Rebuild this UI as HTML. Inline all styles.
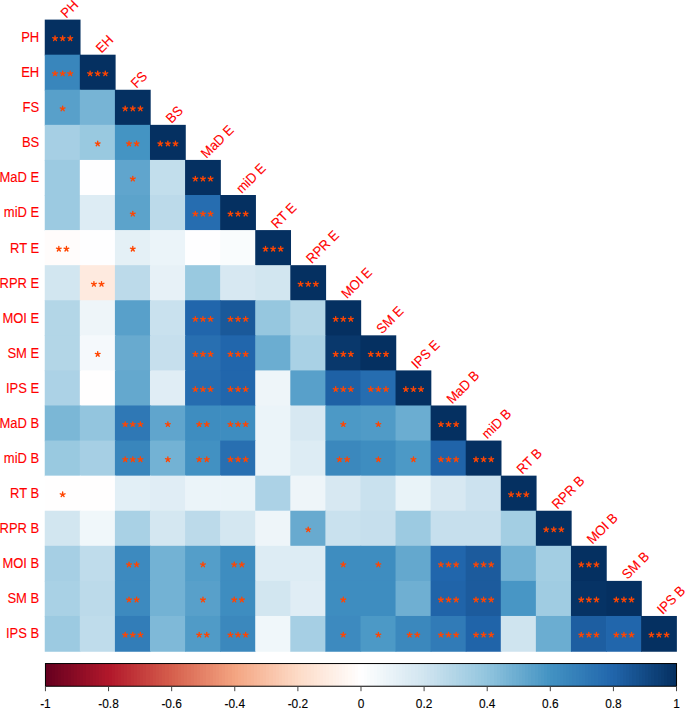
<!DOCTYPE html>
<html><head><meta charset="utf-8"><style>
html,body{margin:0;padding:0;background:#fff;}
body{width:685px;height:709px;position:relative;overflow:hidden;font-family:"Liberation Sans", sans-serif;}
</style></head><body>
<svg width="685" height="709" viewBox="0 0 685 709" style="position:absolute;left:0;top:0"><defs><linearGradient id="cb" x1="0" x2="1" y1="0" y2="0"><stop offset="0.00000" stop-color="#67001f"/><stop offset="0.00500" stop-color="#67001f"/><stop offset="0.00500" stop-color="#6b0120"/><stop offset="0.01000" stop-color="#6b0120"/><stop offset="0.01000" stop-color="#6f0220"/><stop offset="0.01500" stop-color="#6f0220"/><stop offset="0.01500" stop-color="#720421"/><stop offset="0.02000" stop-color="#720421"/><stop offset="0.02000" stop-color="#760521"/><stop offset="0.02500" stop-color="#760521"/><stop offset="0.02500" stop-color="#7a0622"/><stop offset="0.03000" stop-color="#7a0622"/><stop offset="0.03000" stop-color="#7e0723"/><stop offset="0.03500" stop-color="#7e0723"/><stop offset="0.03500" stop-color="#810823"/><stop offset="0.04000" stop-color="#810823"/><stop offset="0.04000" stop-color="#850a24"/><stop offset="0.04500" stop-color="#850a24"/><stop offset="0.04500" stop-color="#890b24"/><stop offset="0.05000" stop-color="#890b24"/><stop offset="0.05000" stop-color="#8d0c25"/><stop offset="0.05500" stop-color="#8d0c25"/><stop offset="0.05500" stop-color="#900d26"/><stop offset="0.06000" stop-color="#900d26"/><stop offset="0.06000" stop-color="#940e26"/><stop offset="0.06500" stop-color="#940e26"/><stop offset="0.06500" stop-color="#981027"/><stop offset="0.07000" stop-color="#981027"/><stop offset="0.07000" stop-color="#9c1127"/><stop offset="0.07500" stop-color="#9c1127"/><stop offset="0.07500" stop-color="#a01228"/><stop offset="0.08000" stop-color="#a01228"/><stop offset="0.08000" stop-color="#a31329"/><stop offset="0.08500" stop-color="#a31329"/><stop offset="0.08500" stop-color="#a71529"/><stop offset="0.09000" stop-color="#a71529"/><stop offset="0.09000" stop-color="#ab162a"/><stop offset="0.09500" stop-color="#ab162a"/><stop offset="0.09500" stop-color="#af172a"/><stop offset="0.10000" stop-color="#af172a"/><stop offset="0.10000" stop-color="#b2182b"/><stop offset="0.10500" stop-color="#b2182b"/><stop offset="0.10500" stop-color="#b41c2d"/><stop offset="0.11000" stop-color="#b41c2d"/><stop offset="0.11000" stop-color="#b6202f"/><stop offset="0.11500" stop-color="#b6202f"/><stop offset="0.11500" stop-color="#b82330"/><stop offset="0.12000" stop-color="#b82330"/><stop offset="0.12000" stop-color="#b92732"/><stop offset="0.12500" stop-color="#b92732"/><stop offset="0.12500" stop-color="#bb2a34"/><stop offset="0.13000" stop-color="#bb2a34"/><stop offset="0.13000" stop-color="#bd2e35"/><stop offset="0.13500" stop-color="#bd2e35"/><stop offset="0.13500" stop-color="#bf3237"/><stop offset="0.14000" stop-color="#bf3237"/><stop offset="0.14000" stop-color="#c13539"/><stop offset="0.14500" stop-color="#c13539"/><stop offset="0.14500" stop-color="#c2393b"/><stop offset="0.15000" stop-color="#c2393b"/><stop offset="0.15000" stop-color="#c43d3c"/><stop offset="0.15500" stop-color="#c43d3c"/><stop offset="0.15500" stop-color="#c6403e"/><stop offset="0.16000" stop-color="#c6403e"/><stop offset="0.16000" stop-color="#c84440"/><stop offset="0.16500" stop-color="#c84440"/><stop offset="0.16500" stop-color="#ca4741"/><stop offset="0.17000" stop-color="#ca4741"/><stop offset="0.17000" stop-color="#cc4b43"/><stop offset="0.17500" stop-color="#cc4b43"/><stop offset="0.17500" stop-color="#cd4f45"/><stop offset="0.18000" stop-color="#cd4f45"/><stop offset="0.18000" stop-color="#cf5247"/><stop offset="0.18500" stop-color="#cf5247"/><stop offset="0.18500" stop-color="#d15648"/><stop offset="0.19000" stop-color="#d15648"/><stop offset="0.19000" stop-color="#d3594a"/><stop offset="0.19500" stop-color="#d3594a"/><stop offset="0.19500" stop-color="#d55d4c"/><stop offset="0.20000" stop-color="#d55d4c"/><stop offset="0.20000" stop-color="#d6614e"/><stop offset="0.20500" stop-color="#d6614e"/><stop offset="0.20500" stop-color="#d86450"/><stop offset="0.21000" stop-color="#d86450"/><stop offset="0.21000" stop-color="#d96853"/><stop offset="0.21500" stop-color="#d96853"/><stop offset="0.21500" stop-color="#db6b56"/><stop offset="0.22000" stop-color="#db6b56"/><stop offset="0.22000" stop-color="#dc6f58"/><stop offset="0.22500" stop-color="#dc6f58"/><stop offset="0.22500" stop-color="#de725b"/><stop offset="0.23000" stop-color="#de725b"/><stop offset="0.23000" stop-color="#df755e"/><stop offset="0.23500" stop-color="#df755e"/><stop offset="0.23500" stop-color="#e17960"/><stop offset="0.24000" stop-color="#e17960"/><stop offset="0.24000" stop-color="#e27c63"/><stop offset="0.24500" stop-color="#e27c63"/><stop offset="0.24500" stop-color="#e48066"/><stop offset="0.25000" stop-color="#e48066"/><stop offset="0.25000" stop-color="#e58368"/><stop offset="0.25500" stop-color="#e58368"/><stop offset="0.25500" stop-color="#e7876b"/><stop offset="0.26000" stop-color="#e7876b"/><stop offset="0.26000" stop-color="#e88a6d"/><stop offset="0.26500" stop-color="#e88a6d"/><stop offset="0.26500" stop-color="#ea8e70"/><stop offset="0.27000" stop-color="#ea8e70"/><stop offset="0.27000" stop-color="#eb9173"/><stop offset="0.27500" stop-color="#eb9173"/><stop offset="0.27500" stop-color="#ed9575"/><stop offset="0.28000" stop-color="#ed9575"/><stop offset="0.28000" stop-color="#ee9878"/><stop offset="0.28500" stop-color="#ee9878"/><stop offset="0.28500" stop-color="#f09c7b"/><stop offset="0.29000" stop-color="#f09c7b"/><stop offset="0.29000" stop-color="#f19f7d"/><stop offset="0.29500" stop-color="#f19f7d"/><stop offset="0.29500" stop-color="#f3a380"/><stop offset="0.30000" stop-color="#f3a380"/><stop offset="0.30000" stop-color="#f4a683"/><stop offset="0.30500" stop-color="#f4a683"/><stop offset="0.30500" stop-color="#f5a987"/><stop offset="0.31000" stop-color="#f5a987"/><stop offset="0.31000" stop-color="#f5ab8a"/><stop offset="0.31500" stop-color="#f5ab8a"/><stop offset="0.31500" stop-color="#f5ae8d"/><stop offset="0.32000" stop-color="#f5ae8d"/><stop offset="0.32000" stop-color="#f6b191"/><stop offset="0.32500" stop-color="#f6b191"/><stop offset="0.32500" stop-color="#f6b394"/><stop offset="0.33000" stop-color="#f6b394"/><stop offset="0.33000" stop-color="#f7b698"/><stop offset="0.33500" stop-color="#f7b698"/><stop offset="0.33500" stop-color="#f7b99b"/><stop offset="0.34000" stop-color="#f7b99b"/><stop offset="0.34000" stop-color="#f8bc9f"/><stop offset="0.34500" stop-color="#f8bc9f"/><stop offset="0.34500" stop-color="#f8bea2"/><stop offset="0.35000" stop-color="#f8bea2"/><stop offset="0.35000" stop-color="#f9c1a6"/><stop offset="0.35500" stop-color="#f9c1a6"/><stop offset="0.35500" stop-color="#f9c4a9"/><stop offset="0.36000" stop-color="#f9c4a9"/><stop offset="0.36000" stop-color="#fac6ad"/><stop offset="0.36500" stop-color="#fac6ad"/><stop offset="0.36500" stop-color="#fac9b0"/><stop offset="0.37000" stop-color="#fac9b0"/><stop offset="0.37000" stop-color="#faccb4"/><stop offset="0.37500" stop-color="#faccb4"/><stop offset="0.37500" stop-color="#fbcfb7"/><stop offset="0.38000" stop-color="#fbcfb7"/><stop offset="0.38000" stop-color="#fbd1bb"/><stop offset="0.38500" stop-color="#fbd1bb"/><stop offset="0.38500" stop-color="#fcd4be"/><stop offset="0.39000" stop-color="#fcd4be"/><stop offset="0.39000" stop-color="#fcd7c1"/><stop offset="0.39500" stop-color="#fcd7c1"/><stop offset="0.39500" stop-color="#fdd9c5"/><stop offset="0.40000" stop-color="#fdd9c5"/><stop offset="0.40000" stop-color="#fddcc8"/><stop offset="0.40500" stop-color="#fddcc8"/><stop offset="0.40500" stop-color="#fddecb"/><stop offset="0.41000" stop-color="#fddecb"/><stop offset="0.41000" stop-color="#fddfce"/><stop offset="0.41500" stop-color="#fddfce"/><stop offset="0.41500" stop-color="#fde1d1"/><stop offset="0.42000" stop-color="#fde1d1"/><stop offset="0.42000" stop-color="#fde3d3"/><stop offset="0.42500" stop-color="#fde3d3"/><stop offset="0.42500" stop-color="#fee5d6"/><stop offset="0.43000" stop-color="#fee5d6"/><stop offset="0.43000" stop-color="#fee7d9"/><stop offset="0.43500" stop-color="#fee7d9"/><stop offset="0.43500" stop-color="#fee8dc"/><stop offset="0.44000" stop-color="#fee8dc"/><stop offset="0.44000" stop-color="#feeadf"/><stop offset="0.44500" stop-color="#feeadf"/><stop offset="0.44500" stop-color="#feece1"/><stop offset="0.45000" stop-color="#feece1"/><stop offset="0.45000" stop-color="#feeee4"/><stop offset="0.45500" stop-color="#feeee4"/><stop offset="0.45500" stop-color="#fef0e7"/><stop offset="0.46000" stop-color="#fef0e7"/><stop offset="0.46000" stop-color="#fef1ea"/><stop offset="0.46500" stop-color="#fef1ea"/><stop offset="0.46500" stop-color="#fef3ed"/><stop offset="0.47000" stop-color="#fef3ed"/><stop offset="0.47000" stop-color="#fef5f0"/><stop offset="0.47500" stop-color="#fef5f0"/><stop offset="0.47500" stop-color="#fff7f2"/><stop offset="0.48000" stop-color="#fff7f2"/><stop offset="0.48000" stop-color="#fff9f5"/><stop offset="0.48500" stop-color="#fff9f5"/><stop offset="0.48500" stop-color="#fffaf8"/><stop offset="0.49000" stop-color="#fffaf8"/><stop offset="0.49000" stop-color="#fffcfb"/><stop offset="0.49500" stop-color="#fffcfb"/><stop offset="0.49500" stop-color="#fffefe"/><stop offset="0.50000" stop-color="#fffefe"/><stop offset="0.50000" stop-color="#fefeff"/><stop offset="0.50500" stop-color="#fefeff"/><stop offset="0.50500" stop-color="#fcfdfe"/><stop offset="0.51000" stop-color="#fcfdfe"/><stop offset="0.51000" stop-color="#f9fcfd"/><stop offset="0.51500" stop-color="#f9fcfd"/><stop offset="0.51500" stop-color="#f7fafc"/><stop offset="0.52000" stop-color="#f7fafc"/><stop offset="0.52000" stop-color="#f5f9fc"/><stop offset="0.52500" stop-color="#f5f9fc"/><stop offset="0.52500" stop-color="#f2f8fb"/><stop offset="0.53000" stop-color="#f2f8fb"/><stop offset="0.53000" stop-color="#f0f7fa"/><stop offset="0.53500" stop-color="#f0f7fa"/><stop offset="0.53500" stop-color="#eef5f9"/><stop offset="0.54000" stop-color="#eef5f9"/><stop offset="0.54000" stop-color="#ebf4f9"/><stop offset="0.54500" stop-color="#ebf4f9"/><stop offset="0.54500" stop-color="#e9f3f8"/><stop offset="0.55000" stop-color="#e9f3f8"/><stop offset="0.55000" stop-color="#e7f1f7"/><stop offset="0.55500" stop-color="#e7f1f7"/><stop offset="0.55500" stop-color="#e4f0f6"/><stop offset="0.56000" stop-color="#e4f0f6"/><stop offset="0.56000" stop-color="#e2eff6"/><stop offset="0.56500" stop-color="#e2eff6"/><stop offset="0.56500" stop-color="#e0edf5"/><stop offset="0.57000" stop-color="#e0edf5"/><stop offset="0.57000" stop-color="#ddecf4"/><stop offset="0.57500" stop-color="#ddecf4"/><stop offset="0.57500" stop-color="#dbebf3"/><stop offset="0.58000" stop-color="#dbebf3"/><stop offset="0.58000" stop-color="#d9e9f3"/><stop offset="0.58500" stop-color="#d9e9f3"/><stop offset="0.58500" stop-color="#d7e8f2"/><stop offset="0.59000" stop-color="#d7e8f2"/><stop offset="0.59000" stop-color="#d4e7f1"/><stop offset="0.59500" stop-color="#d4e7f1"/><stop offset="0.59500" stop-color="#d2e6f0"/><stop offset="0.60000" stop-color="#d2e6f0"/><stop offset="0.60000" stop-color="#cfe4ef"/><stop offset="0.60500" stop-color="#cfe4ef"/><stop offset="0.60500" stop-color="#cce2ef"/><stop offset="0.61000" stop-color="#cce2ef"/><stop offset="0.61000" stop-color="#c9e1ee"/><stop offset="0.61500" stop-color="#c9e1ee"/><stop offset="0.61500" stop-color="#c6dfed"/><stop offset="0.62000" stop-color="#c6dfed"/><stop offset="0.62000" stop-color="#c2deec"/><stop offset="0.62500" stop-color="#c2deec"/><stop offset="0.62500" stop-color="#bfdceb"/><stop offset="0.63000" stop-color="#bfdceb"/><stop offset="0.63000" stop-color="#bcdaea"/><stop offset="0.63500" stop-color="#bcdaea"/><stop offset="0.63500" stop-color="#b9d9e9"/><stop offset="0.64000" stop-color="#b9d9e9"/><stop offset="0.64000" stop-color="#b6d7e8"/><stop offset="0.64500" stop-color="#b6d7e8"/><stop offset="0.64500" stop-color="#b3d6e7"/><stop offset="0.65000" stop-color="#b3d6e7"/><stop offset="0.65000" stop-color="#afd4e6"/><stop offset="0.65500" stop-color="#afd4e6"/><stop offset="0.65500" stop-color="#acd2e6"/><stop offset="0.66000" stop-color="#acd2e6"/><stop offset="0.66000" stop-color="#a9d1e5"/><stop offset="0.66500" stop-color="#a9d1e5"/><stop offset="0.66500" stop-color="#a6cfe4"/><stop offset="0.67000" stop-color="#a6cfe4"/><stop offset="0.67000" stop-color="#a3cee3"/><stop offset="0.67500" stop-color="#a3cee3"/><stop offset="0.67500" stop-color="#a0cce2"/><stop offset="0.68000" stop-color="#a0cce2"/><stop offset="0.68000" stop-color="#9ccae1"/><stop offset="0.68500" stop-color="#9ccae1"/><stop offset="0.68500" stop-color="#99c9e0"/><stop offset="0.69000" stop-color="#99c9e0"/><stop offset="0.69000" stop-color="#96c7df"/><stop offset="0.69500" stop-color="#96c7df"/><stop offset="0.69500" stop-color="#93c5de"/><stop offset="0.70000" stop-color="#93c5de"/><stop offset="0.70000" stop-color="#8fc3dd"/><stop offset="0.70500" stop-color="#8fc3dd"/><stop offset="0.70500" stop-color="#8bc1dc"/><stop offset="0.71000" stop-color="#8bc1dc"/><stop offset="0.71000" stop-color="#87beda"/><stop offset="0.71500" stop-color="#87beda"/><stop offset="0.71500" stop-color="#83bcd9"/><stop offset="0.72000" stop-color="#83bcd9"/><stop offset="0.72000" stop-color="#7fb9d8"/><stop offset="0.72500" stop-color="#7fb9d8"/><stop offset="0.72500" stop-color="#7bb7d6"/><stop offset="0.73000" stop-color="#7bb7d6"/><stop offset="0.73000" stop-color="#77b4d5"/><stop offset="0.73500" stop-color="#77b4d5"/><stop offset="0.73500" stop-color="#73b2d4"/><stop offset="0.74000" stop-color="#73b2d4"/><stop offset="0.74000" stop-color="#6fafd2"/><stop offset="0.74500" stop-color="#6fafd2"/><stop offset="0.74500" stop-color="#6badd1"/><stop offset="0.75000" stop-color="#6badd1"/><stop offset="0.75000" stop-color="#68aacf"/><stop offset="0.75500" stop-color="#68aacf"/><stop offset="0.75500" stop-color="#64a8ce"/><stop offset="0.76000" stop-color="#64a8ce"/><stop offset="0.76000" stop-color="#60a5cd"/><stop offset="0.76500" stop-color="#60a5cd"/><stop offset="0.76500" stop-color="#5ca3cb"/><stop offset="0.77000" stop-color="#5ca3cb"/><stop offset="0.77000" stop-color="#58a0ca"/><stop offset="0.77500" stop-color="#58a0ca"/><stop offset="0.77500" stop-color="#549ec9"/><stop offset="0.78000" stop-color="#549ec9"/><stop offset="0.78000" stop-color="#509bc7"/><stop offset="0.78500" stop-color="#509bc7"/><stop offset="0.78500" stop-color="#4c99c6"/><stop offset="0.79000" stop-color="#4c99c6"/><stop offset="0.79000" stop-color="#4896c5"/><stop offset="0.79500" stop-color="#4896c5"/><stop offset="0.79500" stop-color="#4494c3"/><stop offset="0.80000" stop-color="#4494c3"/><stop offset="0.80000" stop-color="#4291c2"/><stop offset="0.80500" stop-color="#4291c2"/><stop offset="0.80500" stop-color="#408fc1"/><stop offset="0.81000" stop-color="#408fc1"/><stop offset="0.81000" stop-color="#3e8dc0"/><stop offset="0.81500" stop-color="#3e8dc0"/><stop offset="0.81500" stop-color="#3d8abf"/><stop offset="0.82000" stop-color="#3d8abf"/><stop offset="0.82000" stop-color="#3b88bd"/><stop offset="0.82500" stop-color="#3b88bd"/><stop offset="0.82500" stop-color="#3986bc"/><stop offset="0.83000" stop-color="#3986bc"/><stop offset="0.83000" stop-color="#3784bb"/><stop offset="0.83500" stop-color="#3784bb"/><stop offset="0.83500" stop-color="#3681ba"/><stop offset="0.84000" stop-color="#3681ba"/><stop offset="0.84000" stop-color="#347fb9"/><stop offset="0.84500" stop-color="#347fb9"/><stop offset="0.84500" stop-color="#327db8"/><stop offset="0.85000" stop-color="#327db8"/><stop offset="0.85000" stop-color="#317bb7"/><stop offset="0.85500" stop-color="#317bb7"/><stop offset="0.85500" stop-color="#2f78b5"/><stop offset="0.86000" stop-color="#2f78b5"/><stop offset="0.86000" stop-color="#2d76b4"/><stop offset="0.86500" stop-color="#2d76b4"/><stop offset="0.86500" stop-color="#2b74b3"/><stop offset="0.87000" stop-color="#2b74b3"/><stop offset="0.87000" stop-color="#2a72b2"/><stop offset="0.87500" stop-color="#2a72b2"/><stop offset="0.87500" stop-color="#286fb1"/><stop offset="0.88000" stop-color="#286fb1"/><stop offset="0.88000" stop-color="#266db0"/><stop offset="0.88500" stop-color="#266db0"/><stop offset="0.88500" stop-color="#256bae"/><stop offset="0.89000" stop-color="#256bae"/><stop offset="0.89000" stop-color="#2368ad"/><stop offset="0.89500" stop-color="#2368ad"/><stop offset="0.89500" stop-color="#2166ac"/><stop offset="0.90000" stop-color="#2166ac"/><stop offset="0.90000" stop-color="#2064a9"/><stop offset="0.90500" stop-color="#2064a9"/><stop offset="0.90500" stop-color="#1e61a5"/><stop offset="0.91000" stop-color="#1e61a5"/><stop offset="0.91000" stop-color="#1d5ea1"/><stop offset="0.91500" stop-color="#1d5ea1"/><stop offset="0.91500" stop-color="#1c5b9d"/><stop offset="0.92000" stop-color="#1c5b9d"/><stop offset="0.92000" stop-color="#1a599a"/><stop offset="0.92500" stop-color="#1a599a"/><stop offset="0.92500" stop-color="#195696"/><stop offset="0.93000" stop-color="#195696"/><stop offset="0.93000" stop-color="#175392"/><stop offset="0.93500" stop-color="#175392"/><stop offset="0.93500" stop-color="#16518e"/><stop offset="0.94000" stop-color="#16518e"/><stop offset="0.94000" stop-color="#144e8a"/><stop offset="0.94500" stop-color="#144e8a"/><stop offset="0.94500" stop-color="#134b87"/><stop offset="0.95000" stop-color="#134b87"/><stop offset="0.95000" stop-color="#124883"/><stop offset="0.95500" stop-color="#124883"/><stop offset="0.95500" stop-color="#10467f"/><stop offset="0.96000" stop-color="#10467f"/><stop offset="0.96000" stop-color="#0f437b"/><stop offset="0.96500" stop-color="#0f437b"/><stop offset="0.96500" stop-color="#0d4078"/><stop offset="0.97000" stop-color="#0d4078"/><stop offset="0.97000" stop-color="#0c3e74"/><stop offset="0.97500" stop-color="#0c3e74"/><stop offset="0.97500" stop-color="#0b3b70"/><stop offset="0.98000" stop-color="#0b3b70"/><stop offset="0.98000" stop-color="#09386c"/><stop offset="0.98500" stop-color="#09386c"/><stop offset="0.98500" stop-color="#083569"/><stop offset="0.99000" stop-color="#083569"/><stop offset="0.99000" stop-color="#063365"/><stop offset="0.99500" stop-color="#063365"/><stop offset="0.99500" stop-color="#053061"/><stop offset="1.00000" stop-color="#053061"/></linearGradient></defs><defs><path id="st" d="M0,0L0.000,-2.500M0,0L2.378,-0.773M0,0L1.469,2.023M0,0L-1.469,2.023M0,0L-2.378,-0.773" stroke="#FF4500" stroke-width="1.35" stroke-linecap="round" fill="none"/></defs><rect x="44.75" y="19.61" width="35.78" height="35.78" fill="#053061"/><rect x="44.75" y="54.69" width="35.78" height="35.78" fill="#3986bc"/><rect x="79.83" y="54.69" width="35.78" height="35.78" fill="#053061"/><rect x="44.75" y="89.77" width="35.78" height="35.78" fill="#58a0ca"/><rect x="79.83" y="89.77" width="35.78" height="35.78" fill="#77b4d5"/><rect x="114.91" y="89.77" width="35.78" height="35.78" fill="#053061"/><rect x="44.75" y="124.85" width="35.78" height="35.78" fill="#a6cfe4"/><rect x="79.83" y="124.85" width="35.78" height="35.78" fill="#99c9e0"/><rect x="114.91" y="124.85" width="35.78" height="35.78" fill="#4494c3"/><rect x="149.99" y="124.85" width="35.78" height="35.78" fill="#053061"/><rect x="44.75" y="159.93" width="35.78" height="35.78" fill="#9ccae1"/><rect x="79.83" y="159.93" width="35.78" height="35.78" fill="#fefeff"/><rect x="114.91" y="159.93" width="35.78" height="35.78" fill="#60a5cd"/><rect x="149.99" y="159.93" width="35.78" height="35.78" fill="#c2deec"/><rect x="185.07" y="159.93" width="35.78" height="35.78" fill="#053061"/><rect x="44.75" y="195.01" width="35.78" height="35.78" fill="#9ccae1"/><rect x="79.83" y="195.01" width="35.78" height="35.78" fill="#ddecf4"/><rect x="114.91" y="195.01" width="35.78" height="35.78" fill="#5ca3cb"/><rect x="149.99" y="195.01" width="35.78" height="35.78" fill="#bcdaea"/><rect x="185.07" y="195.01" width="35.78" height="35.78" fill="#266db0"/><rect x="220.15" y="195.01" width="35.78" height="35.78" fill="#053061"/><rect x="44.75" y="230.09" width="35.78" height="35.78" fill="#fffcfb"/><rect x="79.83" y="230.09" width="35.78" height="35.78" fill="#fefeff"/><rect x="114.91" y="230.09" width="35.78" height="35.78" fill="#e4f0f6"/><rect x="149.99" y="230.09" width="35.78" height="35.78" fill="#ebf4f9"/><rect x="185.07" y="230.09" width="35.78" height="35.78" fill="#fefeff"/><rect x="220.15" y="230.09" width="35.78" height="35.78" fill="#f9fcfd"/><rect x="255.23" y="230.09" width="35.78" height="35.78" fill="#053061"/><rect x="44.75" y="265.17" width="35.78" height="35.78" fill="#d2e6f0"/><rect x="79.83" y="265.17" width="35.78" height="35.78" fill="#feeadf"/><rect x="114.91" y="265.17" width="35.78" height="35.78" fill="#bcdaea"/><rect x="149.99" y="265.17" width="35.78" height="35.78" fill="#e7f1f7"/><rect x="185.07" y="265.17" width="35.78" height="35.78" fill="#99c9e0"/><rect x="220.15" y="265.17" width="35.78" height="35.78" fill="#d7e8f2"/><rect x="255.23" y="265.17" width="35.78" height="35.78" fill="#d2e6f0"/><rect x="290.31" y="265.17" width="35.78" height="35.78" fill="#053061"/><rect x="44.75" y="300.25" width="35.78" height="35.78" fill="#b3d6e7"/><rect x="79.83" y="300.25" width="35.78" height="35.78" fill="#eef5f9"/><rect x="114.91" y="300.25" width="35.78" height="35.78" fill="#58a0ca"/><rect x="149.99" y="300.25" width="35.78" height="35.78" fill="#c9e1ee"/><rect x="185.07" y="300.25" width="35.78" height="35.78" fill="#2166ac"/><rect x="220.15" y="300.25" width="35.78" height="35.78" fill="#1a599a"/><rect x="255.23" y="300.25" width="35.78" height="35.78" fill="#96c7df"/><rect x="290.31" y="300.25" width="35.78" height="35.78" fill="#b3d6e7"/><rect x="325.39" y="300.25" width="35.78" height="35.78" fill="#053061"/><rect x="44.75" y="335.33" width="35.78" height="35.78" fill="#b3d6e7"/><rect x="79.83" y="335.33" width="35.78" height="35.78" fill="#f5f9fc"/><rect x="114.91" y="335.33" width="35.78" height="35.78" fill="#68aacf"/><rect x="149.99" y="335.33" width="35.78" height="35.78" fill="#c6dfed"/><rect x="185.07" y="335.33" width="35.78" height="35.78" fill="#286fb1"/><rect x="220.15" y="335.33" width="35.78" height="35.78" fill="#2166ac"/><rect x="255.23" y="335.33" width="35.78" height="35.78" fill="#6badd1"/><rect x="290.31" y="335.33" width="35.78" height="35.78" fill="#a9d1e5"/><rect x="325.39" y="335.33" width="35.78" height="35.78" fill="#09386c"/><rect x="360.47" y="335.33" width="35.78" height="35.78" fill="#053061"/><rect x="44.75" y="370.41" width="35.78" height="35.78" fill="#acd2e6"/><rect x="79.83" y="370.41" width="35.78" height="35.78" fill="#fffefe"/><rect x="114.91" y="370.41" width="35.78" height="35.78" fill="#64a8ce"/><rect x="149.99" y="370.41" width="35.78" height="35.78" fill="#e0edf5"/><rect x="185.07" y="370.41" width="35.78" height="35.78" fill="#266db0"/><rect x="220.15" y="370.41" width="35.78" height="35.78" fill="#2166ac"/><rect x="255.23" y="370.41" width="35.78" height="35.78" fill="#eef5f9"/><rect x="290.31" y="370.41" width="35.78" height="35.78" fill="#58a0ca"/><rect x="325.39" y="370.41" width="35.78" height="35.78" fill="#1e61a5"/><rect x="360.47" y="370.41" width="35.78" height="35.78" fill="#266db0"/><rect x="395.55" y="370.41" width="35.78" height="35.78" fill="#053061"/><rect x="44.75" y="405.49" width="35.78" height="35.78" fill="#7bb7d6"/><rect x="79.83" y="405.49" width="35.78" height="35.78" fill="#93c5de"/><rect x="114.91" y="405.49" width="35.78" height="35.78" fill="#2f78b5"/><rect x="149.99" y="405.49" width="35.78" height="35.78" fill="#60a5cd"/><rect x="185.07" y="405.49" width="35.78" height="35.78" fill="#3e8dc0"/><rect x="220.15" y="405.49" width="35.78" height="35.78" fill="#3e8dc0"/><rect x="255.23" y="405.49" width="35.78" height="35.78" fill="#ebf4f9"/><rect x="290.31" y="405.49" width="35.78" height="35.78" fill="#d7e8f2"/><rect x="325.39" y="405.49" width="35.78" height="35.78" fill="#4c99c6"/><rect x="360.47" y="405.49" width="35.78" height="35.78" fill="#509bc7"/><rect x="395.55" y="405.49" width="35.78" height="35.78" fill="#6badd1"/><rect x="430.63" y="405.49" width="35.78" height="35.78" fill="#053061"/><rect x="44.75" y="440.57" width="35.78" height="35.78" fill="#99c9e0"/><rect x="79.83" y="440.57" width="35.78" height="35.78" fill="#a6cfe4"/><rect x="114.91" y="440.57" width="35.78" height="35.78" fill="#3986bc"/><rect x="149.99" y="440.57" width="35.78" height="35.78" fill="#73b2d4"/><rect x="185.07" y="440.57" width="35.78" height="35.78" fill="#4291c2"/><rect x="220.15" y="440.57" width="35.78" height="35.78" fill="#286fb1"/><rect x="255.23" y="440.57" width="35.78" height="35.78" fill="#ebf4f9"/><rect x="290.31" y="440.57" width="35.78" height="35.78" fill="#ddecf4"/><rect x="325.39" y="440.57" width="35.78" height="35.78" fill="#3b88bd"/><rect x="360.47" y="440.57" width="35.78" height="35.78" fill="#3e8dc0"/><rect x="395.55" y="440.57" width="35.78" height="35.78" fill="#4c99c6"/><rect x="430.63" y="440.57" width="35.78" height="35.78" fill="#2064a9"/><rect x="465.71" y="440.57" width="35.78" height="35.78" fill="#053061"/><rect x="44.75" y="475.65" width="35.78" height="35.78" fill="#fffefe"/><rect x="79.83" y="475.65" width="35.78" height="35.78" fill="#fffefe"/><rect x="114.91" y="475.65" width="35.78" height="35.78" fill="#e2eff6"/><rect x="149.99" y="475.65" width="35.78" height="35.78" fill="#e0edf5"/><rect x="185.07" y="475.65" width="35.78" height="35.78" fill="#ebf4f9"/><rect x="220.15" y="475.65" width="35.78" height="35.78" fill="#ebf4f9"/><rect x="255.23" y="475.65" width="35.78" height="35.78" fill="#acd2e6"/><rect x="290.31" y="475.65" width="35.78" height="35.78" fill="#eef5f9"/><rect x="325.39" y="475.65" width="35.78" height="35.78" fill="#d7e8f2"/><rect x="360.47" y="475.65" width="35.78" height="35.78" fill="#c9e1ee"/><rect x="395.55" y="475.65" width="35.78" height="35.78" fill="#e9f3f8"/><rect x="430.63" y="475.65" width="35.78" height="35.78" fill="#d7e8f2"/><rect x="465.71" y="475.65" width="35.78" height="35.78" fill="#cce2ef"/><rect x="500.79" y="475.65" width="35.78" height="35.78" fill="#053061"/><rect x="44.75" y="510.73" width="35.78" height="35.78" fill="#d2e6f0"/><rect x="79.83" y="510.73" width="35.78" height="35.78" fill="#f0f7fa"/><rect x="114.91" y="510.73" width="35.78" height="35.78" fill="#a9d1e5"/><rect x="149.99" y="510.73" width="35.78" height="35.78" fill="#d4e7f1"/><rect x="185.07" y="510.73" width="35.78" height="35.78" fill="#bcdaea"/><rect x="220.15" y="510.73" width="35.78" height="35.78" fill="#d4e7f1"/><rect x="255.23" y="510.73" width="35.78" height="35.78" fill="#eef5f9"/><rect x="290.31" y="510.73" width="35.78" height="35.78" fill="#68aacf"/><rect x="325.39" y="510.73" width="35.78" height="35.78" fill="#c9e1ee"/><rect x="360.47" y="510.73" width="35.78" height="35.78" fill="#c6dfed"/><rect x="395.55" y="510.73" width="35.78" height="35.78" fill="#9ccae1"/><rect x="430.63" y="510.73" width="35.78" height="35.78" fill="#c6dfed"/><rect x="465.71" y="510.73" width="35.78" height="35.78" fill="#c6dfed"/><rect x="500.79" y="510.73" width="35.78" height="35.78" fill="#a3cee3"/><rect x="535.87" y="510.73" width="35.78" height="35.78" fill="#053061"/><rect x="44.75" y="545.81" width="35.78" height="35.78" fill="#a6cfe4"/><rect x="79.83" y="545.81" width="35.78" height="35.78" fill="#bfdceb"/><rect x="114.91" y="545.81" width="35.78" height="35.78" fill="#3d8abf"/><rect x="149.99" y="545.81" width="35.78" height="35.78" fill="#73b2d4"/><rect x="185.07" y="545.81" width="35.78" height="35.78" fill="#549ec9"/><rect x="220.15" y="545.81" width="35.78" height="35.78" fill="#3e8dc0"/><rect x="255.23" y="545.81" width="35.78" height="35.78" fill="#ddecf4"/><rect x="290.31" y="545.81" width="35.78" height="35.78" fill="#ddecf4"/><rect x="325.39" y="545.81" width="35.78" height="35.78" fill="#3e8dc0"/><rect x="360.47" y="545.81" width="35.78" height="35.78" fill="#3e8dc0"/><rect x="395.55" y="545.81" width="35.78" height="35.78" fill="#64a8ce"/><rect x="430.63" y="545.81" width="35.78" height="35.78" fill="#2166ac"/><rect x="465.71" y="545.81" width="35.78" height="35.78" fill="#1c5b9d"/><rect x="500.79" y="545.81" width="35.78" height="35.78" fill="#73b2d4"/><rect x="535.87" y="545.81" width="35.78" height="35.78" fill="#a3cee3"/><rect x="570.95" y="545.81" width="35.78" height="35.78" fill="#053061"/><rect x="44.75" y="580.89" width="35.78" height="35.78" fill="#a9d1e5"/><rect x="79.83" y="580.89" width="35.78" height="35.78" fill="#bcdaea"/><rect x="114.91" y="580.89" width="35.78" height="35.78" fill="#3d8abf"/><rect x="149.99" y="580.89" width="35.78" height="35.78" fill="#73b2d4"/><rect x="185.07" y="580.89" width="35.78" height="35.78" fill="#58a0ca"/><rect x="220.15" y="580.89" width="35.78" height="35.78" fill="#3e8dc0"/><rect x="255.23" y="580.89" width="35.78" height="35.78" fill="#d2e6f0"/><rect x="290.31" y="580.89" width="35.78" height="35.78" fill="#e0edf5"/><rect x="325.39" y="580.89" width="35.78" height="35.78" fill="#3e8dc0"/><rect x="360.47" y="580.89" width="35.78" height="35.78" fill="#3e8dc0"/><rect x="395.55" y="580.89" width="35.78" height="35.78" fill="#6fafd2"/><rect x="430.63" y="580.89" width="35.78" height="35.78" fill="#2064a9"/><rect x="465.71" y="580.89" width="35.78" height="35.78" fill="#1c5b9d"/><rect x="500.79" y="580.89" width="35.78" height="35.78" fill="#4896c5"/><rect x="535.87" y="580.89" width="35.78" height="35.78" fill="#a0cce2"/><rect x="570.95" y="580.89" width="35.78" height="35.78" fill="#063365"/><rect x="606.03" y="580.89" width="35.78" height="35.78" fill="#053061"/><rect x="44.75" y="615.97" width="35.78" height="35.78" fill="#9ccae1"/><rect x="79.83" y="615.97" width="35.78" height="35.78" fill="#bfdceb"/><rect x="114.91" y="615.97" width="35.78" height="35.78" fill="#327db8"/><rect x="149.99" y="615.97" width="35.78" height="35.78" fill="#7fb9d8"/><rect x="185.07" y="615.97" width="35.78" height="35.78" fill="#509bc7"/><rect x="220.15" y="615.97" width="35.78" height="35.78" fill="#3b88bd"/><rect x="255.23" y="615.97" width="35.78" height="35.78" fill="#f0f7fa"/><rect x="290.31" y="615.97" width="35.78" height="35.78" fill="#a6cfe4"/><rect x="325.39" y="615.97" width="35.78" height="35.78" fill="#3d8abf"/><rect x="360.47" y="615.97" width="35.78" height="35.78" fill="#4c99c6"/><rect x="395.55" y="615.97" width="35.78" height="35.78" fill="#3b88bd"/><rect x="430.63" y="615.97" width="35.78" height="35.78" fill="#317bb7"/><rect x="465.71" y="615.97" width="35.78" height="35.78" fill="#2064a9"/><rect x="500.79" y="615.97" width="35.78" height="35.78" fill="#cfe4ef"/><rect x="535.87" y="615.97" width="35.78" height="35.78" fill="#6badd1"/><rect x="570.95" y="615.97" width="35.78" height="35.78" fill="#1d5ea1"/><rect x="606.03" y="615.97" width="35.78" height="35.78" fill="#2166ac"/><rect x="641.11" y="615.97" width="35.78" height="35.78" fill="#053061"/><use href="#st" x="55.04" y="38.50"/><use href="#st" x="62.64" y="38.50"/><use href="#st" x="70.24" y="38.50"/><use href="#st" x="90.12" y="73.58"/><use href="#st" x="97.72" y="73.58"/><use href="#st" x="105.32" y="73.58"/><use href="#st" x="125.20" y="108.66"/><use href="#st" x="132.80" y="108.66"/><use href="#st" x="140.40" y="108.66"/><use href="#st" x="160.28" y="143.74"/><use href="#st" x="167.88" y="143.74"/><use href="#st" x="175.48" y="143.74"/><use href="#st" x="195.36" y="178.82"/><use href="#st" x="202.96" y="178.82"/><use href="#st" x="210.56" y="178.82"/><use href="#st" x="230.44" y="213.90"/><use href="#st" x="238.04" y="213.90"/><use href="#st" x="245.64" y="213.90"/><use href="#st" x="265.52" y="248.98"/><use href="#st" x="273.12" y="248.98"/><use href="#st" x="280.72" y="248.98"/><use href="#st" x="300.60" y="284.06"/><use href="#st" x="308.20" y="284.06"/><use href="#st" x="315.80" y="284.06"/><use href="#st" x="335.68" y="319.14"/><use href="#st" x="343.28" y="319.14"/><use href="#st" x="350.88" y="319.14"/><use href="#st" x="370.76" y="354.22"/><use href="#st" x="378.36" y="354.22"/><use href="#st" x="385.96" y="354.22"/><use href="#st" x="405.84" y="389.30"/><use href="#st" x="413.44" y="389.30"/><use href="#st" x="421.04" y="389.30"/><use href="#st" x="440.92" y="424.38"/><use href="#st" x="448.52" y="424.38"/><use href="#st" x="456.12" y="424.38"/><use href="#st" x="476.00" y="459.46"/><use href="#st" x="483.60" y="459.46"/><use href="#st" x="491.20" y="459.46"/><use href="#st" x="511.08" y="494.54"/><use href="#st" x="518.68" y="494.54"/><use href="#st" x="526.28" y="494.54"/><use href="#st" x="546.16" y="529.62"/><use href="#st" x="553.76" y="529.62"/><use href="#st" x="561.36" y="529.62"/><use href="#st" x="581.24" y="564.70"/><use href="#st" x="588.84" y="564.70"/><use href="#st" x="596.44" y="564.70"/><use href="#st" x="616.32" y="599.78"/><use href="#st" x="623.92" y="599.78"/><use href="#st" x="631.52" y="599.78"/><use href="#st" x="651.40" y="634.86"/><use href="#st" x="659.00" y="634.86"/><use href="#st" x="666.60" y="634.86"/><use href="#st" x="62.64" y="108.66"/><use href="#st" x="55.04" y="73.58"/><use href="#st" x="62.64" y="73.58"/><use href="#st" x="70.24" y="73.58"/><use href="#st" x="97.72" y="143.74"/><use href="#st" x="129.00" y="143.74"/><use href="#st" x="136.60" y="143.74"/><use href="#st" x="132.80" y="178.82"/><use href="#st" x="132.80" y="213.90"/><use href="#st" x="195.36" y="213.90"/><use href="#st" x="202.96" y="213.90"/><use href="#st" x="210.56" y="213.90"/><use href="#st" x="58.84" y="248.98"/><use href="#st" x="66.44" y="248.98"/><use href="#st" x="132.80" y="248.98"/><use href="#st" x="93.92" y="284.06"/><use href="#st" x="101.52" y="284.06"/><use href="#st" x="195.36" y="319.14"/><use href="#st" x="202.96" y="319.14"/><use href="#st" x="210.56" y="319.14"/><use href="#st" x="230.44" y="319.14"/><use href="#st" x="238.04" y="319.14"/><use href="#st" x="245.64" y="319.14"/><use href="#st" x="97.72" y="354.22"/><use href="#st" x="195.36" y="354.22"/><use href="#st" x="202.96" y="354.22"/><use href="#st" x="210.56" y="354.22"/><use href="#st" x="230.44" y="354.22"/><use href="#st" x="238.04" y="354.22"/><use href="#st" x="245.64" y="354.22"/><use href="#st" x="335.68" y="354.22"/><use href="#st" x="343.28" y="354.22"/><use href="#st" x="350.88" y="354.22"/><use href="#st" x="195.36" y="389.30"/><use href="#st" x="202.96" y="389.30"/><use href="#st" x="210.56" y="389.30"/><use href="#st" x="230.44" y="389.30"/><use href="#st" x="238.04" y="389.30"/><use href="#st" x="245.64" y="389.30"/><use href="#st" x="335.68" y="389.30"/><use href="#st" x="343.28" y="389.30"/><use href="#st" x="350.88" y="389.30"/><use href="#st" x="370.76" y="389.30"/><use href="#st" x="378.36" y="389.30"/><use href="#st" x="385.96" y="389.30"/><use href="#st" x="125.20" y="424.38"/><use href="#st" x="132.80" y="424.38"/><use href="#st" x="140.40" y="424.38"/><use href="#st" x="167.88" y="424.38"/><use href="#st" x="199.16" y="424.38"/><use href="#st" x="206.76" y="424.38"/><use href="#st" x="230.44" y="424.38"/><use href="#st" x="238.04" y="424.38"/><use href="#st" x="245.64" y="424.38"/><use href="#st" x="343.28" y="424.38"/><use href="#st" x="378.36" y="424.38"/><use href="#st" x="125.20" y="459.46"/><use href="#st" x="132.80" y="459.46"/><use href="#st" x="140.40" y="459.46"/><use href="#st" x="167.88" y="459.46"/><use href="#st" x="199.16" y="459.46"/><use href="#st" x="206.76" y="459.46"/><use href="#st" x="230.44" y="459.46"/><use href="#st" x="238.04" y="459.46"/><use href="#st" x="245.64" y="459.46"/><use href="#st" x="339.48" y="459.46"/><use href="#st" x="347.08" y="459.46"/><use href="#st" x="378.36" y="459.46"/><use href="#st" x="413.44" y="459.46"/><use href="#st" x="440.92" y="459.46"/><use href="#st" x="448.52" y="459.46"/><use href="#st" x="456.12" y="459.46"/><use href="#st" x="62.64" y="494.54"/><use href="#st" x="308.20" y="529.62"/><use href="#st" x="129.00" y="564.70"/><use href="#st" x="136.60" y="564.70"/><use href="#st" x="202.96" y="564.70"/><use href="#st" x="234.24" y="564.70"/><use href="#st" x="241.84" y="564.70"/><use href="#st" x="343.28" y="564.70"/><use href="#st" x="378.36" y="564.70"/><use href="#st" x="440.92" y="564.70"/><use href="#st" x="448.52" y="564.70"/><use href="#st" x="456.12" y="564.70"/><use href="#st" x="476.00" y="564.70"/><use href="#st" x="483.60" y="564.70"/><use href="#st" x="491.20" y="564.70"/><use href="#st" x="129.00" y="599.78"/><use href="#st" x="136.60" y="599.78"/><use href="#st" x="202.96" y="599.78"/><use href="#st" x="234.24" y="599.78"/><use href="#st" x="241.84" y="599.78"/><use href="#st" x="343.28" y="599.78"/><use href="#st" x="440.92" y="599.78"/><use href="#st" x="448.52" y="599.78"/><use href="#st" x="456.12" y="599.78"/><use href="#st" x="476.00" y="599.78"/><use href="#st" x="483.60" y="599.78"/><use href="#st" x="491.20" y="599.78"/><use href="#st" x="581.24" y="599.78"/><use href="#st" x="588.84" y="599.78"/><use href="#st" x="596.44" y="599.78"/><use href="#st" x="125.20" y="634.86"/><use href="#st" x="132.80" y="634.86"/><use href="#st" x="140.40" y="634.86"/><use href="#st" x="199.16" y="634.86"/><use href="#st" x="206.76" y="634.86"/><use href="#st" x="230.44" y="634.86"/><use href="#st" x="238.04" y="634.86"/><use href="#st" x="245.64" y="634.86"/><use href="#st" x="343.28" y="634.86"/><use href="#st" x="378.36" y="634.86"/><use href="#st" x="409.64" y="634.86"/><use href="#st" x="417.24" y="634.86"/><use href="#st" x="440.92" y="634.86"/><use href="#st" x="448.52" y="634.86"/><use href="#st" x="456.12" y="634.86"/><use href="#st" x="476.00" y="634.86"/><use href="#st" x="483.60" y="634.86"/><use href="#st" x="491.20" y="634.86"/><use href="#st" x="581.24" y="634.86"/><use href="#st" x="588.84" y="634.86"/><use href="#st" x="596.44" y="634.86"/><use href="#st" x="616.32" y="634.86"/><use href="#st" x="623.92" y="634.86"/><use href="#st" x="631.52" y="634.86"/><text x="0" y="0" transform="translate(39.2,42.04) scale(1,1.06)" text-anchor="end" font-family='"Liberation Sans", sans-serif' font-size="13.0" fill="#FF0000" stroke="#FF0000" stroke-width="0.1">PH</text><text x="0" y="0" transform="translate(39.2,77.12) scale(1,1.06)" text-anchor="end" font-family='"Liberation Sans", sans-serif' font-size="13.0" fill="#FF0000" stroke="#FF0000" stroke-width="0.1">EH</text><text x="0" y="0" transform="translate(39.2,112.20) scale(1,1.06)" text-anchor="end" font-family='"Liberation Sans", sans-serif' font-size="13.0" fill="#FF0000" stroke="#FF0000" stroke-width="0.1">FS</text><text x="0" y="0" transform="translate(39.2,147.28) scale(1,1.06)" text-anchor="end" font-family='"Liberation Sans", sans-serif' font-size="13.0" fill="#FF0000" stroke="#FF0000" stroke-width="0.1">BS</text><text x="0" y="0" transform="translate(39.2,182.36) scale(1,1.06)" text-anchor="end" font-family='"Liberation Sans", sans-serif' font-size="13.0" fill="#FF0000" stroke="#FF0000" stroke-width="0.1">MaD E</text><text x="0" y="0" transform="translate(39.2,217.44) scale(1,1.06)" text-anchor="end" font-family='"Liberation Sans", sans-serif' font-size="13.0" fill="#FF0000" stroke="#FF0000" stroke-width="0.1">miD E</text><text x="0" y="0" transform="translate(39.2,252.52) scale(1,1.06)" text-anchor="end" font-family='"Liberation Sans", sans-serif' font-size="13.0" fill="#FF0000" stroke="#FF0000" stroke-width="0.1">RT E</text><text x="0" y="0" transform="translate(39.2,287.60) scale(1,1.06)" text-anchor="end" font-family='"Liberation Sans", sans-serif' font-size="13.0" fill="#FF0000" stroke="#FF0000" stroke-width="0.1">RPR E</text><text x="0" y="0" transform="translate(39.2,322.68) scale(1,1.06)" text-anchor="end" font-family='"Liberation Sans", sans-serif' font-size="13.0" fill="#FF0000" stroke="#FF0000" stroke-width="0.1">MOI E</text><text x="0" y="0" transform="translate(39.2,357.76) scale(1,1.06)" text-anchor="end" font-family='"Liberation Sans", sans-serif' font-size="13.0" fill="#FF0000" stroke="#FF0000" stroke-width="0.1">SM E</text><text x="0" y="0" transform="translate(39.2,392.84) scale(1,1.06)" text-anchor="end" font-family='"Liberation Sans", sans-serif' font-size="13.0" fill="#FF0000" stroke="#FF0000" stroke-width="0.1">IPS E</text><text x="0" y="0" transform="translate(39.2,427.92) scale(1,1.06)" text-anchor="end" font-family='"Liberation Sans", sans-serif' font-size="13.0" fill="#FF0000" stroke="#FF0000" stroke-width="0.1">MaD B</text><text x="0" y="0" transform="translate(39.2,463.00) scale(1,1.06)" text-anchor="end" font-family='"Liberation Sans", sans-serif' font-size="13.0" fill="#FF0000" stroke="#FF0000" stroke-width="0.1">miD B</text><text x="0" y="0" transform="translate(39.2,498.08) scale(1,1.06)" text-anchor="end" font-family='"Liberation Sans", sans-serif' font-size="13.0" fill="#FF0000" stroke="#FF0000" stroke-width="0.1">RT B</text><text x="0" y="0" transform="translate(39.2,533.16) scale(1,1.06)" text-anchor="end" font-family='"Liberation Sans", sans-serif' font-size="13.0" fill="#FF0000" stroke="#FF0000" stroke-width="0.1">RPR B</text><text x="0" y="0" transform="translate(39.2,568.24) scale(1,1.06)" text-anchor="end" font-family='"Liberation Sans", sans-serif' font-size="13.0" fill="#FF0000" stroke="#FF0000" stroke-width="0.1">MOI B</text><text x="0" y="0" transform="translate(39.2,603.32) scale(1,1.06)" text-anchor="end" font-family='"Liberation Sans", sans-serif' font-size="13.0" fill="#FF0000" stroke="#FF0000" stroke-width="0.1">SM B</text><text x="0" y="0" transform="translate(39.2,638.40) scale(1,1.06)" text-anchor="end" font-family='"Liberation Sans", sans-serif' font-size="13.0" fill="#FF0000" stroke="#FF0000" stroke-width="0.1">IPS B</text><text x="0" y="0" transform="translate(66.30,18.66) rotate(-45) scale(1,1.06)" font-family='"Liberation Sans", sans-serif' font-size="13.0" fill="#FF0000" stroke="#FF0000" stroke-width="0.1">PH</text><text x="0" y="0" transform="translate(101.38,53.74) rotate(-45) scale(1,1.06)" font-family='"Liberation Sans", sans-serif' font-size="13.0" fill="#FF0000" stroke="#FF0000" stroke-width="0.1">EH</text><text x="0" y="0" transform="translate(136.46,88.82) rotate(-45) scale(1,1.06)" font-family='"Liberation Sans", sans-serif' font-size="13.0" fill="#FF0000" stroke="#FF0000" stroke-width="0.1">FS</text><text x="0" y="0" transform="translate(171.54,123.90) rotate(-45) scale(1,1.06)" font-family='"Liberation Sans", sans-serif' font-size="13.0" fill="#FF0000" stroke="#FF0000" stroke-width="0.1">BS</text><text x="0" y="0" transform="translate(206.62,158.98) rotate(-45) scale(1,1.06)" font-family='"Liberation Sans", sans-serif' font-size="13.0" fill="#FF0000" stroke="#FF0000" stroke-width="0.1">MaD E</text><text x="0" y="0" transform="translate(241.70,194.06) rotate(-45) scale(1,1.06)" font-family='"Liberation Sans", sans-serif' font-size="13.0" fill="#FF0000" stroke="#FF0000" stroke-width="0.1">miD E</text><text x="0" y="0" transform="translate(276.78,229.14) rotate(-45) scale(1,1.06)" font-family='"Liberation Sans", sans-serif' font-size="13.0" fill="#FF0000" stroke="#FF0000" stroke-width="0.1">RT E</text><text x="0" y="0" transform="translate(311.86,264.22) rotate(-45) scale(1,1.06)" font-family='"Liberation Sans", sans-serif' font-size="13.0" fill="#FF0000" stroke="#FF0000" stroke-width="0.1">RPR E</text><text x="0" y="0" transform="translate(346.94,299.30) rotate(-45) scale(1,1.06)" font-family='"Liberation Sans", sans-serif' font-size="13.0" fill="#FF0000" stroke="#FF0000" stroke-width="0.1">MOI E</text><text x="0" y="0" transform="translate(382.02,334.38) rotate(-45) scale(1,1.06)" font-family='"Liberation Sans", sans-serif' font-size="13.0" fill="#FF0000" stroke="#FF0000" stroke-width="0.1">SM E</text><text x="0" y="0" transform="translate(417.10,369.46) rotate(-45) scale(1,1.06)" font-family='"Liberation Sans", sans-serif' font-size="13.0" fill="#FF0000" stroke="#FF0000" stroke-width="0.1">IPS E</text><text x="0" y="0" transform="translate(452.18,404.54) rotate(-45) scale(1,1.06)" font-family='"Liberation Sans", sans-serif' font-size="13.0" fill="#FF0000" stroke="#FF0000" stroke-width="0.1">MaD B</text><text x="0" y="0" transform="translate(487.26,439.62) rotate(-45) scale(1,1.06)" font-family='"Liberation Sans", sans-serif' font-size="13.0" fill="#FF0000" stroke="#FF0000" stroke-width="0.1">miD B</text><text x="0" y="0" transform="translate(522.34,474.70) rotate(-45) scale(1,1.06)" font-family='"Liberation Sans", sans-serif' font-size="13.0" fill="#FF0000" stroke="#FF0000" stroke-width="0.1">RT B</text><text x="0" y="0" transform="translate(557.42,509.78) rotate(-45) scale(1,1.06)" font-family='"Liberation Sans", sans-serif' font-size="13.0" fill="#FF0000" stroke="#FF0000" stroke-width="0.1">RPR B</text><text x="0" y="0" transform="translate(592.50,544.86) rotate(-45) scale(1,1.06)" font-family='"Liberation Sans", sans-serif' font-size="13.0" fill="#FF0000" stroke="#FF0000" stroke-width="0.1">MOI B</text><text x="0" y="0" transform="translate(627.58,579.94) rotate(-45) scale(1,1.06)" font-family='"Liberation Sans", sans-serif' font-size="13.0" fill="#FF0000" stroke="#FF0000" stroke-width="0.1">SM B</text><text x="0" y="0" transform="translate(662.66,615.02) rotate(-45) scale(1,1.06)" font-family='"Liberation Sans", sans-serif' font-size="13.0" fill="#FF0000" stroke="#FF0000" stroke-width="0.1">IPS B</text><rect x="45.45" y="663.55" width="631.08" height="22.69" fill="url(#cb)"/><rect x="45.45" y="663.55" width="631.08" height="22.69" fill="none" stroke="#000" stroke-width="1"/><line x1="45.45" y1="686.24" x2="45.45" y2="691.2" stroke="#444" stroke-width="1"/><text x="45.45" y="707.6" text-anchor="middle" font-family='"Liberation Sans", sans-serif' font-size="11.9" fill="#000" stroke="#000" stroke-width="0.12">-1</text><line x1="108.56" y1="686.24" x2="108.56" y2="691.2" stroke="#444" stroke-width="1"/><text x="108.56" y="707.6" text-anchor="middle" font-family='"Liberation Sans", sans-serif' font-size="11.9" fill="#000" stroke="#000" stroke-width="0.12">-0.8</text><line x1="171.67" y1="686.24" x2="171.67" y2="691.2" stroke="#444" stroke-width="1"/><text x="171.67" y="707.6" text-anchor="middle" font-family='"Liberation Sans", sans-serif' font-size="11.9" fill="#000" stroke="#000" stroke-width="0.12">-0.6</text><line x1="234.77" y1="686.24" x2="234.77" y2="691.2" stroke="#444" stroke-width="1"/><text x="234.77" y="707.6" text-anchor="middle" font-family='"Liberation Sans", sans-serif' font-size="11.9" fill="#000" stroke="#000" stroke-width="0.12">-0.4</text><line x1="297.88" y1="686.24" x2="297.88" y2="691.2" stroke="#444" stroke-width="1"/><text x="297.88" y="707.6" text-anchor="middle" font-family='"Liberation Sans", sans-serif' font-size="11.9" fill="#000" stroke="#000" stroke-width="0.12">-0.2</text><line x1="360.99" y1="686.24" x2="360.99" y2="691.2" stroke="#444" stroke-width="1"/><text x="360.99" y="707.6" text-anchor="middle" font-family='"Liberation Sans", sans-serif' font-size="11.9" fill="#000" stroke="#000" stroke-width="0.12">0</text><line x1="424.10" y1="686.24" x2="424.10" y2="691.2" stroke="#444" stroke-width="1"/><text x="424.10" y="707.6" text-anchor="middle" font-family='"Liberation Sans", sans-serif' font-size="11.9" fill="#000" stroke="#000" stroke-width="0.12">0.2</text><line x1="487.21" y1="686.24" x2="487.21" y2="691.2" stroke="#444" stroke-width="1"/><text x="487.21" y="707.6" text-anchor="middle" font-family='"Liberation Sans", sans-serif' font-size="11.9" fill="#000" stroke="#000" stroke-width="0.12">0.4</text><line x1="550.31" y1="686.24" x2="550.31" y2="691.2" stroke="#444" stroke-width="1"/><text x="550.31" y="707.6" text-anchor="middle" font-family='"Liberation Sans", sans-serif' font-size="11.9" fill="#000" stroke="#000" stroke-width="0.12">0.6</text><line x1="613.42" y1="686.24" x2="613.42" y2="691.2" stroke="#444" stroke-width="1"/><text x="613.42" y="707.6" text-anchor="middle" font-family='"Liberation Sans", sans-serif' font-size="11.9" fill="#000" stroke="#000" stroke-width="0.12">0.8</text><line x1="676.53" y1="686.24" x2="676.53" y2="691.2" stroke="#444" stroke-width="1"/><text x="676.53" y="707.6" text-anchor="middle" font-family='"Liberation Sans", sans-serif' font-size="11.9" fill="#000" stroke="#000" stroke-width="0.12">1</text></svg>
</body></html>
